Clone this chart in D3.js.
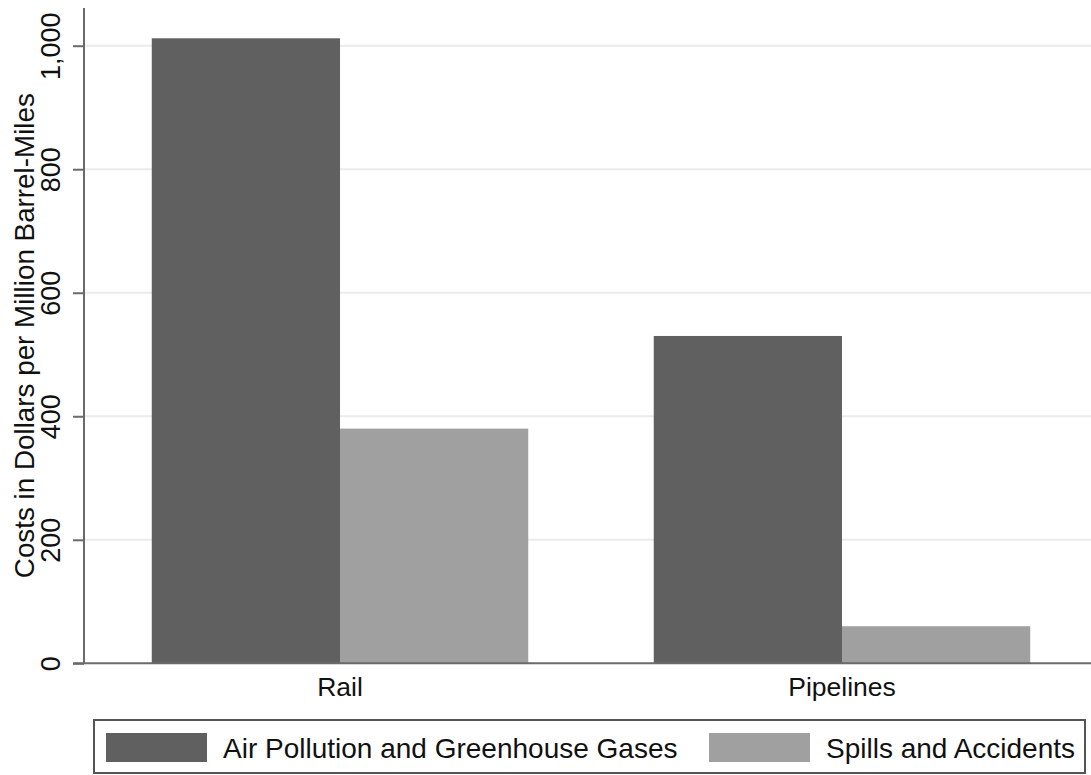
<!DOCTYPE html>
<html><head><meta charset="utf-8">
<script src="https://cdn.jsdelivr.net/npm/d3@7"></script>
<style>body{margin:0;background:#fff}svg{display:block}text{font-family:"Liberation Sans",Arial,sans-serif;fill:#111}</style>
</head><body>
<script>
const categories = ["Rail", "Pipelines"];
const seriesNames = ["Air Pollution and Greenhouse Gases", "Spills and Accidents"];
const airPollution = [1012, 530];
const spills = [380, 60];
const yTicks = [0, 200, 400, 600, 800, 1000];
const colors = ["#606060", "#a0a0a0"];

const W = 1091, H = 775;
const svg = d3.select("body").append("svg").attr("width", W).attr("height", H);

const mLeft = 84, mRight = 1091, mTop = 8, mBottom = 663.3;
const y = d3.scaleLinear().domain([0, 1000]).range([mBottom, 45.7]);
const x = d3.scaleBand().domain(categories).range([mLeft, 1098]).paddingInner(0.25).paddingOuter(0.135);
const xs = d3.scaleBand().domain(seriesNames).range([0, x.bandwidth()]);

const data = categories.map((c, i) => ({cat: c, vals: [airPollution[i], spills[i]]}));

// gridlines
svg.append("g").selectAll("line").data(yTicks.filter(d => d > 0)).join("line")
  .attr("x1", mLeft).attr("x2", mRight).attr("y1", d => y(d)).attr("y2", d => y(d))
  .attr("stroke", "#ebebeb").attr("stroke-width", 2);

// bars
const g = svg.append("g");
data.forEach(d => {
  g.selectAll(null).data(d.vals).join("rect")
    .attr("x", (v, j) => x(d.cat) + xs(seriesNames[j]))
    .attr("width", xs.bandwidth())
    .attr("y", v => y(v))
    .attr("height", v => y(0) - y(v))
    .attr("fill", (v, j) => colors[j]);
});

// y axis
const yAxis = d3.axisLeft(y).tickValues(yTicks).tickSize(11).tickFormat(d3.format(","));
const ya = svg.append("g").attr("transform", `translate(${mLeft},0)`).call(yAxis);
ya.select(".domain").remove();
ya.selectAll(".tick line").attr("stroke", "#6a6a6a").attr("stroke-width", 2);
ya.selectAll(".tick text").attr("x", null).attr("dy", null)
  .attr("transform", "translate(-24,0) rotate(-90)")
  .attr("text-anchor", "middle").attr("font-size", 27).attr("fill", "#111")
  .style("font-family", "'Liberation Sans', Arial, sans-serif");
svg.append("line").attr("x1", mLeft).attr("x2", mLeft).attr("y1", mTop).attr("y2", mBottom)
  .attr("stroke", "#6a6a6a").attr("stroke-width", 2);

// x axis
svg.append("line").attr("x1", 73).attr("x2", mRight).attr("y1", mBottom).attr("y2", mBottom)
  .attr("stroke", "#6a6a6a").attr("stroke-width", 2);
const xAxis = d3.axisBottom(x).tickSize(0);
const xa = svg.append("g").attr("transform", `translate(0,${mBottom})`).call(xAxis);
xa.select(".domain").remove();
xa.selectAll(".tick text").attr("y", 33).attr("dy", null).attr("font-size", 26.5).attr("fill", "#111")
  .style("font-family", "'Liberation Sans', Arial, sans-serif");

// y title
svg.append("text").attr("transform", `translate(34,${(mTop + mBottom) / 2}) rotate(-90)`)
  .attr("text-anchor", "middle").attr("font-size", 27.8)
  .text("Costs in Dollars per Million Barrel-Miles");

// legend
svg.append("rect").attr("x", 94).attr("y", 720).attr("width", 991).attr("height", 53)
  .attr("fill", "#fff").attr("stroke", "#555").attr("stroke-width", 2);
const legendX = [106, 709];
const lg = svg.append("g").selectAll("g").data(seriesNames).join("g")
  .attr("transform", (d, i) => `translate(${legendX[i]},733)`);
lg.append("rect").attr("width", 101).attr("height", 29).attr("fill", (d, i) => colors[i]);
lg.append("text").attr("x", 117).attr("y", 25).attr("font-size", 28).text(d => d);
</script>
</body></html>
